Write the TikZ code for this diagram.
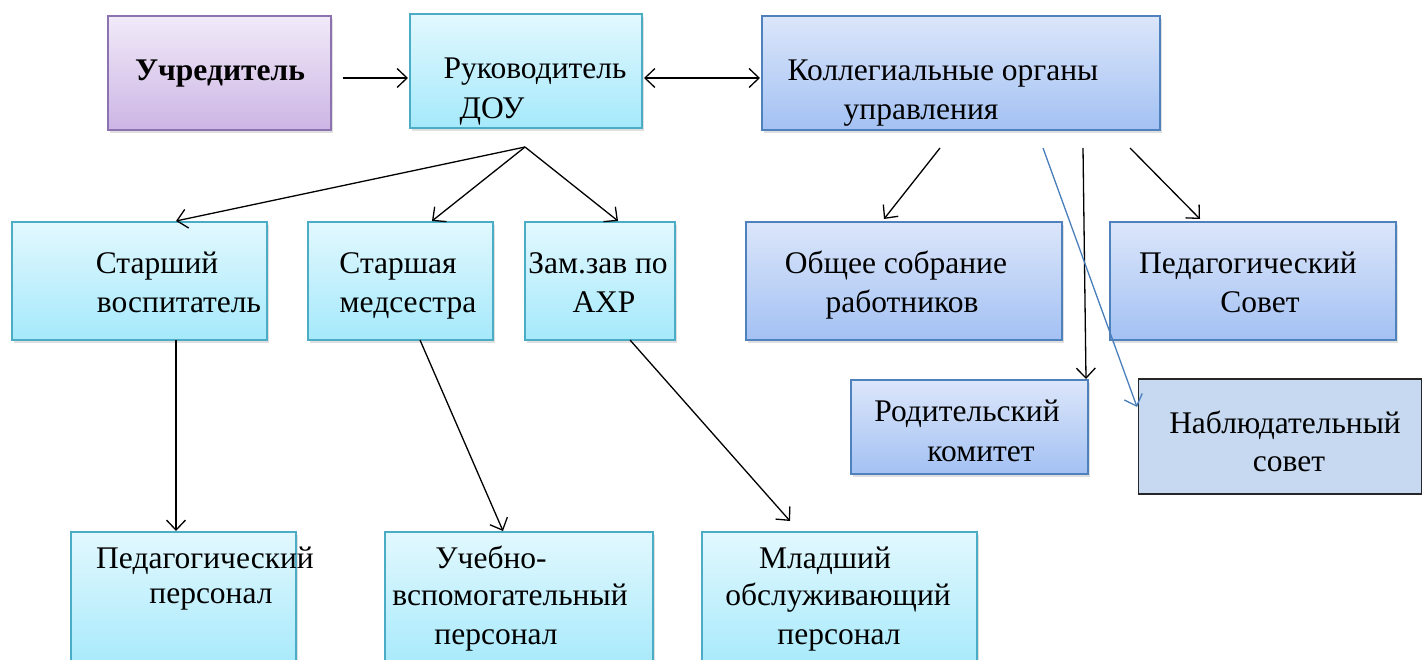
\documentclass[tikz,border=0pt]{standalone}
\usepackage{fontspec}
\setmainfont{Liberation Serif}
\usetikzlibrary{arrows.meta,shadows}
\definecolor{purT}{HTML}{F1EAF8}
\definecolor{purB}{HTML}{CCB5E5}
\definecolor{purD}{HTML}{8C72B0}
\definecolor{cyaT}{HTML}{E2F8FE}
\definecolor{cyaB}{HTML}{A5E9FB}
\definecolor{cyaD}{HTML}{4BACC6}
\definecolor{bluT}{HTML}{DCE6FA}
\definecolor{bluB}{HTML}{A3C1F3}
\definecolor{bluD}{HTML}{4F81BD}
\definecolor{nabF}{HTML}{C6D9F0}
\definecolor{linkB}{HTML}{4A7EBB}
\tikzset{
  boxbase/.style={rectangle, inner sep=0pt, line width=1.4pt,
    drop shadow={opacity=0.25, shadow xshift=2pt, shadow yshift=-3pt}},
  purbox/.style={boxbase, draw=purD, top color=purT, bottom color=purB},
  cyabox/.style={boxbase, draw=cyaD, top color=cyaT, bottom color=cyaB},
  blubox/.style={boxbase, draw=bluD, top color=bluT, bottom color=bluB},
  nabbox/.style={rectangle, inner sep=0pt, line width=1.2pt, draw=black!85, fill=nabF},
  lbl/.style={inner sep=0pt, anchor=base, font=\fontsize{31.5}{36}\selectfont, text=black},
  barbtip/.tip={Straight Barb[length=10pt,width=19pt,line width=1.3pt]},
  arr/.style={line width=1.3pt, -{barbtip}},
  darr/.style={line width=1.3pt, {barbtip}-{barbtip}},
  barr/.style={line width=1.3pt, draw=linkB, -{barbtip}}
}
\begin{document}
\begin{tikzpicture}[x=1pt,y=-1pt]
\useasboundingbox (0,0) rectangle (1423,660);
\clip (0,0) rectangle (1423,660);
% boxes
\node[purbox, minimum width=223pt, minimum height=114pt] (ucr) at (219.5,73) {};
\node[cyabox, minimum width=232pt, minimum height=114pt] (ruk) at (526,71) {};
\node[blubox, minimum width=398pt, minimum height=114pt] (kol) at (961,73) {};
\node[cyabox, minimum width=255pt, minimum height=118pt] (sv) at (139.5,281) {};
\node[cyabox, minimum width=185pt, minimum height=118pt] (sm) at (400.5,281) {};
\node[cyabox, minimum width=150pt, minimum height=118pt] (zz) at (600,281) {};
\node[blubox, minimum width=316pt, minimum height=118pt] (os) at (904,281) {};
\node[blubox, minimum width=286pt, minimum height=118pt] (ps) at (1253,281) {};
\node[blubox, minimum width=237pt, minimum height=94pt] (rk) at (969.5,427) {};
\node[nabbox, minimum width=283pt, minimum height=115pt] (nab) at (1280,436.5) {};
\node[cyabox, minimum width=225pt, minimum height=140pt] (pp) at (183.5,602) {};
\node[cyabox, minimum width=268pt, minimum height=140pt] (uvp) at (519,602) {};
\node[cyabox, minimum width=275pt, minimum height=140pt] (mop) at (839.5,602) {};
% labels
\node[lbl, font=\fontsize{31.5}{36}\selectfont\bfseries] (t1) at (220,81) {Учредитель};
\node[lbl] (t2a) at (535,79) {Руководитель};
\node[lbl] (t2b) at (492,119) {ДОУ};
\node[lbl] (t3a) at (943,81) {Коллегиальные органы};
\node[lbl] (t3b) at (921,120) {управления};
\node[lbl] (t4a) at (157,273) {Старший};
\node[lbl] (t4b) at (179,312) {воспитатель};
\node[lbl] (t5a) at (398,273) {Старшая};
\node[lbl] (t5b) at (408,312) {медсестра};
\node[lbl] (t6a) at (598,273) {Зам.зав по};
\node[lbl] (t6b) at (604,312) {АХР};
\node[lbl] (t7a) at (896,273) {Общее собрание};
\node[lbl] (t7b) at (902,312) {работников};
\node[lbl] (t8a) at (1248,273) {Педагогический};
\node[lbl] (t8b) at (1260,312) {Совет};
\node[lbl] (t9a) at (967,421) {Родительский};
\node[lbl] (t9b) at (981,461) {комитет};
\node[lbl] (t10a) at (1285,433) {Наблюдательный};
\node[lbl] (t10b) at (1289,471) {совет};
\node[lbl] (t11a) at (205,568) {Педагогический};
\node[lbl] (t11b) at (211,603) {персонал};
\node[lbl] (t12a) at (491,568) {Учебно-};
\node[lbl] (t12b) at (510,605) {вспомогательный};
\node[lbl] (t12c) at (496,644) {персонал};
\node[lbl] (t13a) at (825,568) {Младший};
\node[lbl] (t13b) at (838,605) {обслуживающий};
\node[lbl] (t13c) at (839,644) {персонал};
% connector endpoints
\coordinate (a1s) at (343,78);
\coordinate (a1e) at (408,78);
\coordinate (a2s) at (644,78);
\coordinate (a2e) at (760,78);
\coordinate (r0) at (525,147);
\coordinate (rsv) at (176,221);
\coordinate (rsm) at (432,221);
\coordinate (rzz) at (618,221);
\coordinate (k1) at (940,148);
\coordinate (kos) at (884,219);
\coordinate (k2) at (1083,148);
\coordinate (krk) at (1086,379);
\coordinate (k3) at (1130,148);
\coordinate (kps) at (1200,219);
\coordinate (k4) at (1043,148);
\coordinate (knab) at (1137,407);
\coordinate (svb) at (176,340);
\coordinate (ppt) at (176,531);
\coordinate (smb) at (420,340);
\coordinate (uvpt) at (503,531);
\coordinate (zzb) at (630,340);
\coordinate (mopt) at (790,521);
% connectors
\draw[arr] (a1s) -- (a1e);
\draw[darr] (a2s) -- (a2e);
\draw[arr] (r0) -- (rsv);
\draw[arr] (r0) -- (rsm);
\draw[arr] (r0) -- (rzz);
\draw[arr] (k1) -- (kos);
\draw[arr] (k2) -- (krk);
\draw[arr] (k3) -- (kps);
\draw[barr] (k4) -- (knab);
\draw[arr] (svb) -- (ppt);
\draw[arr] (smb) -- (uvpt);
\draw[arr] (zzb) -- (mopt);
\end{tikzpicture}
\end{document}
